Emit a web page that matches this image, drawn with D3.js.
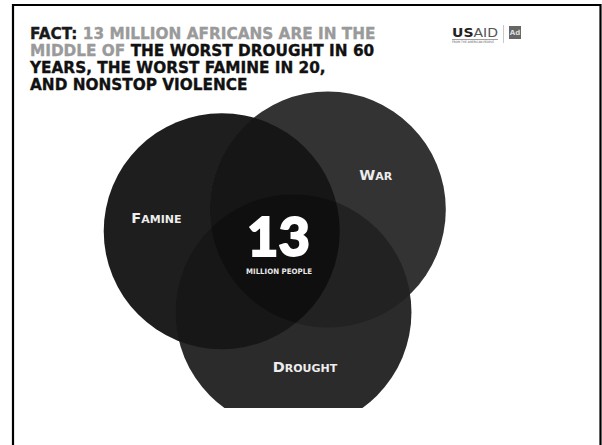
<!DOCTYPE html>
<html><head><meta charset="utf-8">
<script src="https://cdn.jsdelivr.net/npm/d3@7"></script>
<style>
html,body{margin:0;padding:0;background:#fff;}
svg{display:block;}
</style></head>
<body>
<svg id="chart" width="602" height="445"></svg>
<script>
// ---- data ----
const sets = ["Famine", "War", "Drought"];
const setLabels = ["FAMINE", "WAR", "DROUGHT"];
const centerValue = "13";
const centerUnit = "MILLION PEOPLE";
const titleLines = [
  [["FACT: ", "k"], ["13 MILLION AFRICANS ARE IN THE", "g"]],
  [["MIDDLE OF ", "g"], ["THE WORST DROUGHT IN 60", "b"]],
  [["YEARS, THE WORST FAMINE IN 20,", "b"]],
  [["AND NONSTOP VIOLENCE", "b"]]
];

// ---- layout / style ----
const W = 602, H = 445;
const svg = d3.select("#chart");
const cx0 = 281, cy0 = 251, spread = 62.5, R = 118;
const angle = d3.scaleBand().domain(sets).range([198.5, 558.5]);
const pos = d3.scaleLinear().domain([0, 1]).range([0, spread]);
const rad = d3.scaleLinear().domain([0, 1]).range([0, R]);
const toRad = a => a * Math.PI / 180;
const centre = s => {
  const a = toRad(angle(s));
  return [cx0 + pos(1) * Math.cos(a), cy0 + pos(1) * Math.sin(a)];
};
const baseFill = {Famine: "#1e1e1e", War: "#333333", Drought: "#2b2b2b"};
const pairFill = {"Famine|War": "#161616", "Famine|Drought": "#171717", "War|Drought": "#222222"};
const tripleFill = "#0f0f0f";

// frame
svg.append("path")
  .attr("d", "M13,450V5H600.5V450")
  .attr("fill", "none").attr("stroke", "#000").attr("stroke-width", 2.2);

const defs = svg.append("defs");
sets.forEach(s => {
  const [x, y] = centre(s);
  defs.append("clipPath").attr("id", "clip-" + s)
    .append("circle").attr("cx", x).attr("cy", y).attr("r", rad(1));
});
defs.append("clipPath").attr("id", "clip-bottom")
  .append("rect").attr("x", 0).attr("y", 0).attr("width", W).attr("height", 408);

const venn = svg.append("g").attr("clip-path", "url(#clip-bottom)");
venn.selectAll("circle.base").data(sets).join("circle")
  .attr("class", "base")
  .attr("cx", d => centre(d)[0]).attr("cy", d => centre(d)[1])
  .attr("r", rad(1)).attr("fill", d => baseFill[d]);

Object.keys(pairFill).forEach(k => {
  const [a, b] = k.split("|");
  const [x, y] = centre(b);
  venn.append("g").attr("clip-path", `url(#clip-${a})`)
    .append("circle").attr("cx", x).attr("cy", y).attr("r", rad(1)).attr("fill", pairFill[k]);
});
{
  const [x, y] = centre(sets[2]);
  venn.append("g").attr("clip-path", `url(#clip-${sets[0]})`)
    .append("g").attr("clip-path", `url(#clip-${sets[1]})`)
    .append("circle").attr("cx", x).attr("cy", y).attr("r", rad(1)).attr("fill", tripleFill);
}

// set labels (small caps)
const labelAngle = {Famine: 195, War: 321, Drought: 78.3};
const labelDist = {Famine: 129, War: 122, Drought: 118};
sets.forEach((s, i) => {
  const a = toRad(labelAngle[s]);
  const x = cx0 + labelDist[s] * Math.cos(a), y = cy0 + labelDist[s] * Math.sin(a);
  const t = svg.append("text").attr("x", x).attr("y", y + 5.5)
    .attr("text-anchor", "middle")
    .attr("font-family", "DejaVu Sans").attr("font-weight", "bold")
    .attr("fill", "#ededed");
  t.append("tspan").attr("font-size", 14.5).text(setLabels[i][0]);
  t.append("tspan").attr("font-size", 11).text(setLabels[i].slice(1));
});

// centre value
svg.append("text").attr("x", 278.5).attr("y", 255.5)
  .attr("text-anchor", "middle")
  .attr("font-family", "Lato").attr("font-weight", 900).attr("font-size", 53)
  .attr("textLength", 63).attr("lengthAdjust", "spacingAndGlyphs")
  .attr("stroke", "#fff").attr("stroke-width", 1.8).attr("stroke-linejoin", "miter")
  .attr("fill", "#fff").text(centerValue);
svg.append("text").attr("x", 279).attr("y", 273.5)
  .attr("text-anchor", "middle")
  .attr("font-family", "DejaVu Sans").attr("font-weight", "bold").attr("font-size", 7.5)
  .attr("textLength", 66).attr("lengthAdjust", "spacingAndGlyphs")
  .attr("fill", "#e8e8e8").text(centerUnit);

// title
const tColor = {k: "#1a1a1a", g: "#9a9a9a", b: "#111"};
titleLines.forEach((line, i) => {
  const t = svg.append("text").attr("x", 30).attr("y", 38.5 + i * 17.3)
    .attr("font-family", "DejaVu Sans").attr("font-weight", "bold").attr("font-size", 15.3)
    .attr("stroke-width", 0.35).attr("stroke-linejoin", "round");
  line.forEach(([txt, c]) => t.append("tspan").attr("fill", tColor[c]).attr("stroke", tColor[c]).text(txt));
});

// USAID logo
const logo = svg.append("g");
const lt = logo.append("text").attr("x", 452).attr("y", 37)
  .attr("font-family", "DejaVu Sans").attr("font-size", 11.5)
  .attr("textLength", 46).attr("lengthAdjust", "spacingAndGlyphs");
lt.append("tspan").attr("font-weight", "bold").attr("fill", "#222").text("US");
lt.append("tspan").attr("fill", "#555").text("AID");
logo.append("line").attr("x1", 452).attr("x2", 498).attr("y1", 39.5).attr("y2", 39.5)
  .attr("stroke", "#888").attr("stroke-width", 0.8);
logo.append("text").attr("x", 452).attr("y", 43).attr("font-family", "DejaVu Sans")
  .attr("font-size", 3).attr("fill", "#555")
  .attr("textLength", 42).attr("lengthAdjust", "spacingAndGlyphs").text("FROM THE AMERICAN PEOPLE");
logo.append("line").attr("x1", 503.5).attr("x2", 503.5).attr("y1", 25).attr("y2", 43)
  .attr("stroke", "#bbb").attr("stroke-width", 0.8);
logo.append("rect").attr("x", 509).attr("y", 26).attr("width", 12).attr("height", 13)
  .attr("fill", "#666");
logo.append("text").attr("x", 515).attr("y", 35).attr("text-anchor", "middle")
  .attr("font-family", "DejaVu Sans").attr("font-weight", "bold").attr("font-size", 7)
  .attr("fill", "#ddd").text("Ad");
</script>
</body></html>
